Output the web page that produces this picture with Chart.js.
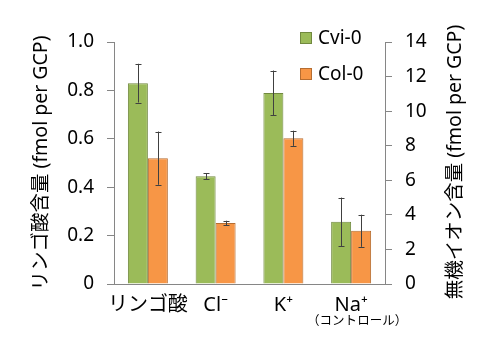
<!DOCTYPE html>
<html>
<head>
<meta charset="utf-8">
<script src="https://cdn.jsdelivr.net/npm/chart.js@4"></script>
<style>
  body { margin: 0; background: #fff; }
  #wrap { width: 500px; height: 339px; }
</style>
</head>
<body>
<div id="wrap"><canvas id="c" width="500" height="339"></canvas></div>
<script>
// categories and values
const categories = ['リンゴ酸', 'Cl⁻', 'K⁺', 'Na⁺']
const seriesNames = ['Cvi-0', 'Col-0']

// malic acid, left axis (fmol per GCP)
const malicCvi = [0.83, null, null, null]
const malicCviErr = [0.08, null, null, null]
const malicCol = [0.52, null, null, null]
const malicColErr = [0.11, null, null, null]

// inorganic ions, right axis (fmol per GCP)
const ionCvi = [null, 6.23, 11.05, 3.60]
const ionCviErr = [null, 0.17, 1.30, 1.40]
const ionCol = [null, 3.53, 8.43, 3.08]
const ionColErr = [null, 0.13, 0.44, 0.93]

const leftTicks = [0, 0.2, 0.4, 0.6, 0.8, 1.0]
const rightTicks = [0, 2, 4, 6, 8, 10, 12, 14]

const green = '#9bbb59', greenLine = '#71893f'
const orange = '#f79646', orangeLine = '#b66d31'
const axisColor = '#868686'
const font = "'Noto Sans', 'Noto Sans CJK JP', sans-serif"

Chart.defaults.color = '#000'
Chart.defaults.font.family = font

function barSet(label, data, err, color, line, axis, stack) {
    return {
        label: label,
        data: data,
        errors: err,
        backgroundColor: color,
        borderColor: line,
        borderWidth: 1,
        yAxisID: axis,
        stack: stack,
        skipNull: true,
        categoryPercentage: 0.59,
        barPercentage: 1.0
    }
}

// whiskers drawn from the error arrays through the bar elements + scales
const errorBars = {
    id: 'errorBars',
    afterDatasetsDraw(chart) {
        const ctx = chart.ctx
        ctx.save()
        ctx.strokeStyle = '#404040'
        ctx.lineWidth = 1
        chart.data.datasets.forEach((ds, i) => {
            const meta = chart.getDatasetMeta(i)
            const scale = chart.scales[ds.yAxisID]
            meta.data.forEach((bar, j) => {
                const v = ds.data[j], e = ds.errors[j]
                if (v == null || e == null) return
                const top = scale.getPixelForValue(v + e)
                const bot = scale.getPixelForValue(v - e)
                const x = Math.round(bar.x) + 0.5
                ctx.beginPath()
                ctx.moveTo(x, top); ctx.lineTo(x, bot)
                ctx.moveTo(x - 3, Math.round(top) + 0.5); ctx.lineTo(x + 3, Math.round(top) + 0.5)
                ctx.moveTo(x - 3, Math.round(bot) + 0.5); ctx.lineTo(x + 3, Math.round(bot) + 0.5)
                ctx.stroke()
            })
        })
        ctx.restore()
    }
}

// legend, right axis title and the small note under Na+
const extras = {
    id: 'extras',
    afterDraw(chart) {
        const ctx = chart.ctx
        ctx.save()
        ctx.font = '19px ' + font
        ctx.textBaseline = 'middle'
        ctx.textAlign = 'left'
        const items = [[seriesNames[0], green, greenLine, 38], [seriesNames[1], orange, orangeLine, 74]]
        items.forEach(([name, fill, line, y]) => {
            ctx.fillStyle = fill
            ctx.fillRect(300, y - 6, 12, 12)
            ctx.strokeStyle = line
            ctx.strokeRect(300.5, y - 5.5, 11, 11)
            ctx.fillStyle = '#000'
            ctx.fillText(name, 318, y + 1)
        })

        ctx.save()
        ctx.translate(455, 162)
        ctx.rotate(-Math.PI / 2)
        ctx.textAlign = 'center'
        ctx.font = '19.5px ' + font
        ctx.fillText('無機イオン含量 (fmol per GCP)', 0, 0)
        ctx.restore()

        const x = chart.scales.x.getPixelForValue(3)
        ctx.textAlign = 'center'
        ctx.font = "12.5px 'Noto Sans CJK JP', sans-serif"
        ctx.fillText('（コントロール）', x + 6, 320)
        ctx.restore()
    }
}

new Chart(document.getElementById('c'), {
    type: 'bar',
    data: {
        labels: categories,
        datasets: [
            barSet(seriesNames[0], malicCvi, malicCviErr, green, greenLine, 'y', 'a'),
            barSet(seriesNames[1], malicCol, malicColErr, orange, orangeLine, 'y', 'b'),
            barSet(seriesNames[0], ionCvi, ionCviErr, green, greenLine, 'y2', 'a'),
            barSet(seriesNames[1], ionCol, ionColErr, orange, orangeLine, 'y2', 'b')
        ]
    },
    options: {
        responsive: false,
        animation: false,
        layout: { padding: { top: 42, left: 0, right: 0, bottom: 0 } },
        plugins: { legend: { display: false }, tooltip: { enabled: false } },
        scales: {
            x: {
                grid: { display: false },
                border: { color: axisColor },
                ticks: { font: { size: 20 }, padding: 1, maxRotation: 0, autoSkip: false },
                afterFit(s) { s.height = 55 }
            },
            y: {
                position: 'left',
                min: 0, max: 1,
                afterBuildTicks(s) { s.ticks = leftTicks.map(v => ({ value: v })) },
                grid: { drawOnChartArea: false, tickLength: 7, color: axisColor },
                border: { color: axisColor },
                ticks: {
                    font: { size: 19 }, padding: 13,
                    callback: v => v === 0 ? '0' : v.toFixed(1)
                },
                title: {
                    display: true,
                    text: 'リンゴ酸含量 (fmol per GCP)',
                    font: { size: 19.5 },
                    padding: { top: 30, bottom: 0 }
                },
                afterFit(s) { s.width = 114 }
            },
            y2: {
                position: 'right',
                min: 0, max: 14,
                afterBuildTicks(s) { s.ticks = rightTicks.map(v => ({ value: v })) },
                grid: { drawOnChartArea: false, tickLength: 7, color: axisColor },
                border: { color: axisColor },
                ticks: { font: { size: 19 }, padding: 13 },
                afterFit(s) { s.width = 115 }
            }
        }
    },
    plugins: [errorBars, extras]
})
</script>
</body>
</html>
